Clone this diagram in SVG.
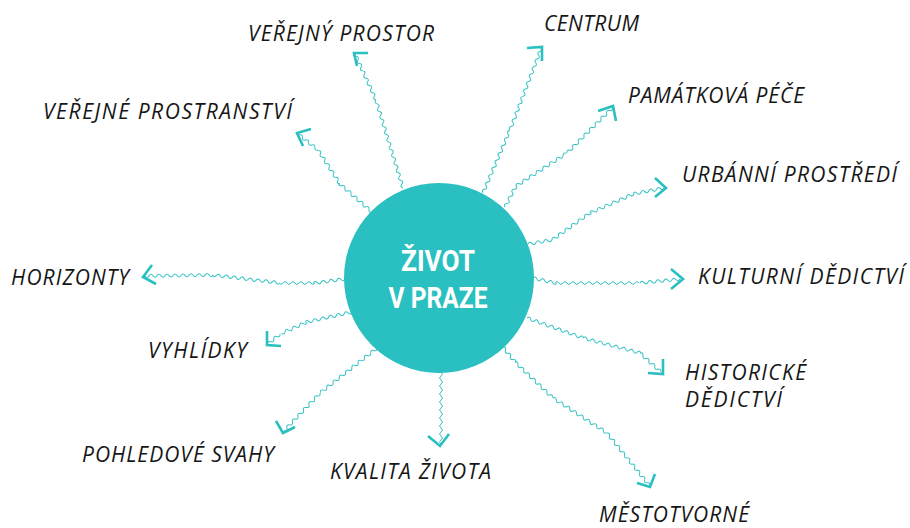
<svg xmlns="http://www.w3.org/2000/svg" width="910" height="528" viewBox="0 0 910 528">
<style>
.bg{fill:#ffffff}
.hub{fill:#2abfc0}
.hubtxt{font-family:Roboto,"Open Sans","DejaVu Sans",sans-serif;font-weight:700;font-size:30px;fill:#ffffff}
.lbl{font-family:"Open Sans","Noto Sans","DejaVu Sans",sans-serif;font-style:italic;font-weight:400;font-size:21px;fill:#161616}
.wave{fill:none;stroke:#33c2c3;stroke-width:1}
.head{fill:none;stroke:#2abfc0;stroke-width:2.6;stroke-linecap:butt;stroke-linejoin:miter}
</style>
<rect class="bg" x="0" y="0" width="910" height="528"/>

<g id="connectors">
  <g id="c-verejny-prostor">
    <path class="wave" transform="translate(403,188) rotate(-107.1)" d="M0,0q2,-3 4,0t4,0t4,0t4,0t4,0t4,0t4,0t4,0t4,0t4,0t4,0t4,0t4,0t4,0t4,0t4,0t4,0t4,0t4,0t4,0t4,0t4,0t4,0"/>
    <path class="wave" transform="translate(376,100) rotate(-114.5)" d="M0,0q2,-3 4,0t4,0t4,0t4,0t4,0t4,0t4,0t4,0t4,0t4,0t4,0t4,0t4,0"/>
    <polyline class="head" points="368,53 354,53 357,66"/>
  </g>
  <g id="c-verejne-prostranstvi">
    <path class="wave" transform="translate(372,212) rotate(-138.8)" d="M0,0q2,-3 4,0t4,0t4,0t4,0t4,0t4,0t4,0t4,0t4,0t4,0t4,0"/>
    <path class="wave" transform="translate(340,184) rotate(-122.9)" d="M0,0q2,-3 4,0t4,0t4,0t4,0t4,0t4,0t4,0t4,0t4,0t4,0"/>
    <path class="wave" transform="translate(318,150) rotate(-141.3)" d="M0,0q2,-3 4,0t4,0t4,0t4,0t4,0t4,0"/>
    <polyline class="head" points="311,129 297,133 303,146"/>
  </g>
  <g id="c-centrum">
    <path class="wave" transform="translate(483,193) rotate(-66.8)" d="M0,0q2,-3 4,0t4,0t4,0t4,0t4,0t4,0t4,0t4,0t4,0t4,0t4,0t4,0t4,0t4,0t4,0t4,0t4,0"/>
    <path class="wave" transform="translate(510,130) rotate(-69.1)" d="M0,0q2,-3 4,0t4,0t4,0t4,0t4,0t4,0t4,0t4,0t4,0t4,0t4,0t4,0t4,0t4,0t4,0t4,0t4,0t4,0t4,0t4,0t4,0t4,0"/>
    <polyline class="head" points="527,48 542,47 542,61"/>
  </g>
  <g id="c-pamatkova-pece">
    <path class="wave" transform="translate(505,207) rotate(-62.4)" d="M0,0q2,-3 4,0t4,0t4,0t4,0t4,0t4,0"/>
    <path class="wave" transform="translate(516,186) rotate(-32.9)" d="M0,0q2,-3 4,0t4,0t4,0t4,0t4,0t4,0t4,0t4,0t4,0t4,0t4,0t4,0t4,0t4,0t4,0"/>
    <path class="wave" transform="translate(567,153) rotate(-45)" d="M0,0q2,-3 4,0t4,0t4,0t4,0t4,0t4,0t4,0t4,0t4,0t4,0t4,0t4,0t4,0t4,0t4,0t4,0"/>
    <polyline class="head" points="598,111 613,106 616,121"/>
  </g>
  <g id="c-urbanni-prostredi">
    <path class="wave" transform="translate(528,244) rotate(-9.5)" d="M0,0q2,-3 4,0t4,0t4,0t4,0t4,0t4,0"/>
    <path class="wave" transform="translate(552,240) rotate(-35.4)" d="M0,0q2,-3 4,0t4,0t4,0t4,0t4,0t4,0t4,0t4,0t4,0t4,0t4,0t4,0"/>
    <path class="wave" transform="translate(590,213) rotate(-23.8)" d="M0,0q2,-3 4,0t4,0t4,0t4,0t4,0t4,0t4,0t4,0t4,0t4,0t4,0t4,0"/>
    <path class="wave" transform="translate(633,194) rotate(-11)" d="M0,0q2,-3 4,0t4,0t4,0t4,0t4,0t4,0t4,0t4,0"/>
    <polyline class="head" points="655,178 666,188 655,197"/>
  </g>
  <g id="c-kulturni-dedictvi">
    <path class="wave" transform="translate(533,278) rotate(12.8)" d="M0,0q2,-3 4,0t4,0t4,0t4,0t4,0t4,0"/>
    <path class="wave" transform="translate(555,283)" d="M0,0q2,-3 4,0t4,0t4,0t4,0t4,0t4,0t4,0t4,0t4,0t4,0t4,0t4,0t4,0t4,0t4,0t4,0t4,0t4,0t4,0t4,0t4,0"/>
    <path class="wave" transform="translate(640,283) rotate(-5.6)" d="M0,0q2,-3 4,0t4,0t4,0t4,0t4,0t4,0t4,0t4,0t4,0t4,0"/>
    <polyline class="head" points="671,269 683,279 671,289"/>
  </g>
  <g id="c-historicke-dedictvi">
    <path class="wave" transform="translate(527,318) rotate(19.65)" d="M0,0q2,-3 4,0t4,0t4,0t4,0t4,0t4,0t4,0t4,0t4,0t4,0t4,0t4,0t4,0t4,0t4,0"/>
    <path class="wave" transform="translate(583,338) rotate(14.7)" d="M0,0q2,-3 4,0t4,0t4,0t4,0t4,0t4,0t4,0t4,0t4,0t4,0t4,0t4,0t4,0t4,0t4,0"/>
    <path class="wave" transform="translate(640,353) rotate(42.3)" d="M0,0q2,-3 4,0t4,0t4,0t4,0t4,0t4,0t4,0"/>
    <polyline class="head" points="648,373 663,374 663,359"/>
  </g>
  <g id="c-mestotvorne">
    <path class="wave" transform="translate(503,347) rotate(51.3)" d="M0,0q2,-3 4,0t4,0t4,0t4,0t4,0"/>
    <path class="wave" transform="translate(515,362) rotate(43.45)" d="M0,0q2,-3 4,0t4,0t4,0t4,0t4,0t4,0t4,0t4,0t4,0t4,0t4,0t4,0t4,0"/>
    <path class="wave" transform="translate(553,398) rotate(32.9)" d="M0,0q2,-3 4,0t4,0t4,0t4,0t4,0t4,0t4,0t4,0t4,0t4,0t4,0t4,0t4,0t4,0t4,0t4,0"/>
    <path class="wave" transform="translate(607,433) rotate(51.1)" d="M0,0q2,-3 4,0t4,0t4,0t4,0t4,0t4,0t4,0t4,0t4,0t4,0t4,0t4,0t4,0t4,0t4,0t4,0t4,0"/>
    <polyline class="head" points="637,483 650,487 655,474"/>
  </g>
  <g id="c-kvalita-zivota">
    <path class="wave" transform="translate(441,372) rotate(90)" d="M0,0q2,-3 4,0t4,0t4,0t4,0t4,0t4,0t4,0t4,0t4,0t4,0t4,0t4,0t4,0t4,0t4,0t4,0t4,0t4,0"/>
    <polyline class="head" points="428,436 440,446 449,434"/>
  </g>
  <g id="c-pohledove-svahy">
    <path class="wave" transform="translate(377,348) rotate(141.7)" d="M0,0q2,-3 4,0t4,0t4,0t4,0t4,0t4,0t4,0t4,0t4,0t4,0t4,0t4,0t4,0t4,0t4,0t4,0t4,0t4,0"/>
    <path class="wave" transform="translate(320,393) rotate(133.5)" d="M0,0q2,-3 4,0t4,0t4,0t4,0t4,0t4,0t4,0t4,0t4,0t4,0t4,0t4,0t4,0"/>
    <polyline class="head" points="276,421 283,433 295,427"/>
  </g>
  <g id="c-vyhlidky">
    <path class="wave" transform="translate(352,312) rotate(167.5)" d="M0,0q2,-3 4,0t4,0t4,0t4,0t4,0t4,0t4,0t4,0t4,0t4,0t4,0t4,0"/>
    <path class="wave" transform="translate(307,322) rotate(156)" d="M0,0q2,-3 4,0t4,0t4,0t4,0t4,0t4,0t4,0"/>
    <path class="wave" transform="translate(280,334) rotate(140.2)" d="M0,0q2,-3 4,0t4,0t4,0t4,0"/>
    <polyline class="head" points="267,331 267,345 281,346"/>
  </g>
  <g id="c-horizonty">
    <path class="wave" transform="translate(345,279) rotate(172.4)" d="M0,0q2,-3 4,0t4,0t4,0t4,0t4,0t4,0t4,0t4,0"/>
    <path class="wave" transform="translate(315,283) rotate(180)" d="M0,0q2,-3 4,0t4,0t4,0t4,0t4,0t4,0t4,0t4,0t4,0"/>
    <path class="wave" transform="translate(280,283) rotate(-173.2)" d="M0,0q2,-3 4,0t4,0t4,0t4,0t4,0t4,0t4,0t4,0t4,0t4,0t4,0t4,0t4,0t4,0t4,0t4,0t4,0"/>
    <path class="wave" transform="translate(213,275) rotate(179.2)" d="M0,0q2,-3 4,0t4,0t4,0t4,0t4,0t4,0t4,0t4,0t4,0t4,0t4,0t4,0t4,0t4,0t4,0t4,0t4,0"/>
    <polyline class="head" points="152,265 143,277 156,284"/>
  </g>
</g>

<g id="hub">
  <circle class="hub" cx="439" cy="278" r="95"/>
  <text class="hubtxt" x="438" y="271" text-anchor="middle" textLength="74" lengthAdjust="spacingAndGlyphs">ŽIVOT</text>
  <text class="hubtxt" x="438" y="308" text-anchor="middle" textLength="99" lengthAdjust="spacingAndGlyphs">V PRAZE</text>
</g>

<g id="n-verejny-prostor"><text class="lbl" x="248" y="41" textLength="186" lengthAdjust="spacing">VEŘEJNÝ PROSTOR</text></g>
<g id="n-centrum"><text class="lbl" x="544" y="31" textLength="95" lengthAdjust="spacing">CENTRUM</text></g>
<g id="n-pamatkova-pece"><text class="lbl" x="628" y="103" textLength="176" lengthAdjust="spacing">PAMÁTKOVÁ PÉČE</text></g>
<g id="n-urbanni-prostredi"><text class="lbl" x="682" y="182" textLength="215" lengthAdjust="spacing">URBÁNNÍ PROSTŘEDÍ</text></g>
<g id="n-kulturni-dedictvi"><text class="lbl" x="698" y="284" textLength="206" lengthAdjust="spacing">KULTURNÍ DĚDICTVÍ</text></g>
<g id="n-historicke-dedictvi">
  <text class="lbl" x="685" y="380" textLength="121" lengthAdjust="spacing">HISTORICKÉ</text>
  <text class="lbl" x="685" y="407" textLength="97" lengthAdjust="spacing">DĚDICTVÍ</text>
</g>
<g id="n-mestotvorne"><text class="lbl" x="599" y="522" textLength="150" lengthAdjust="spacing">MĚSTOTVORNÉ</text></g>
<g id="n-kvalita-zivota"><text class="lbl" x="330" y="479" textLength="161" lengthAdjust="spacing">KVALITA ŽIVOTA</text></g>
<g id="n-pohledove-svahy"><text class="lbl" x="82" y="462" textLength="192" lengthAdjust="spacing">POHLEDOVÉ SVAHY</text></g>
<g id="n-vyhlidky"><text class="lbl" x="148" y="358" textLength="99" lengthAdjust="spacing">VYHLÍDKY</text></g>
<g id="n-horizonty"><text class="lbl" x="11" y="285" textLength="118" lengthAdjust="spacing">HORIZONTY</text></g>
<g id="n-verejne-prostranstvi"><text class="lbl" x="43" y="119" textLength="249" lengthAdjust="spacing">VEŘEJNÉ PROSTRANSTVÍ</text></g>
</svg>
